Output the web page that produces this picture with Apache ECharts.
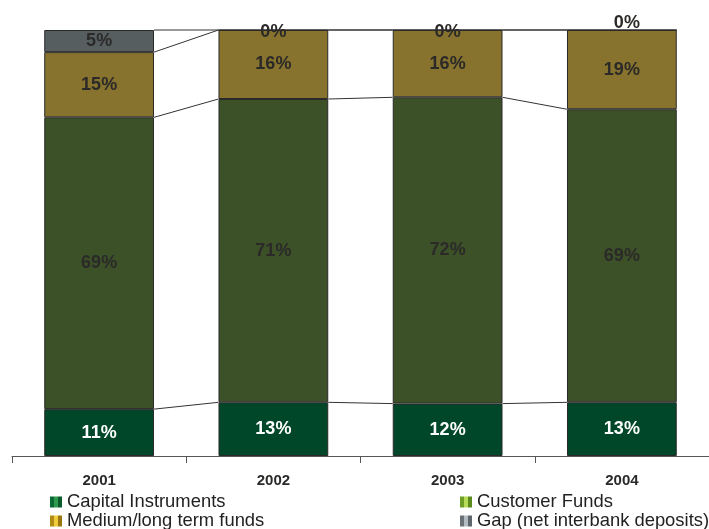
<!DOCTYPE html>
<html>
<head>
<meta charset="utf-8">
<script src="https://cdn.jsdelivr.net/npm/echarts@6/dist/echarts.min.js"></script>
<style>
  html, body { margin: 0; padding: 0; background: #fff; }
  #chart { width: 709px; height: 529px; }
</style>
</head>
<body>
<div id="chart"></div>
<script>
// data (share of funding, %)
const years = ['2001', '2002', '2003', '2004'];
const capitalInstruments = [11.0, 12.6, 12.3, 12.6];
const customerFunds = [68.5, 71.2, 71.9, 68.8];
const mediumLongFunds = [15.3, 16.2, 15.8, 18.6];
const gapInterbank = [5.2, 0, 0, 0];

const seriesNames = ['Capital Instruments', 'Customer Funds', 'Medium/long term funds', 'Gap (net interbank deposits)'];
const seriesValues = [capitalInstruments, customerFunds, mediumLongFunds, gapInterbank];
const barColors = ['#004628', '#3c5128', '#87732e', '#565e60'];
const labelColors = ['#ffffff', '#2b2a28', '#2b2a28', '#2b2a28'];
const BAR_RATIO = 0.63;
const FONT = 'Liberation Sans';

const chart = echarts.init(document.getElementById('chart'));

// cumulative tops, used by the connector lines between bars
const cumTops = years.map((y, i) => {
  let s = 0;
  return seriesValues.map(arr => (s += arr[i]));
});
const connectorData = [];
for (let i = 0; i < years.length - 1; i++) {
  for (let k = 0; k < seriesValues.length; k++) {
    connectorData.push([i, cumTops[i][k], cumTops[i + 1][k]]);
  }
}

const grad = (a, b, c) => ({
  type: 'linear', x: 0, y: 0, x2: 1, y2: 0,
  colorStops: [
    { offset: 0, color: a }, { offset: 0.33, color: a },
    { offset: 0.34, color: b }, { offset: 0.66, color: b },
    { offset: 0.67, color: c }, { offset: 1, color: c },
  ],
});
const legendIcons = [
  grad('#0a6a34', '#2f9a4e', '#0b5a2c'),
  grad('#6e9e24', '#b8dc58', '#5a8a1c'),
  grad('#b08a12', '#f0cc3c', '#9a7610'),
  grad('#6a7278', '#b4bcc2', '#5e666c'),
];
// legend slot per series: [left, top]
const legendPos = [[50, 493], [460, 493], [50, 512], [460, 512]];

const barSeries = seriesNames.map((name, k) => ({
  name,
  type: 'bar',
  stack: 'total',
  barWidth: (BAR_RATIO * 100) + '%',
  data: seriesValues[k].map((v, i) => {
    const item = { value: v };
    if (v === 0) {
      // zero slices: label sits on the bar top (last year just above it)
      item.label = i === years.length - 1
        ? { position: 'inside', offset: [5, -7] }
        : { position: 'inside', offset: [0, 2] };
    }
    return item;
  }),
  itemStyle: { color: barColors[k], borderColor: '#2a2a2a', borderWidth: 1 },
  label: {
    show: true,
    position: 'inside',
    color: labelColors[k],
    textBorderWidth: 0,
    fontFamily: FONT,
    fontWeight: 'bold',
    fontSize: 18,
    formatter: p => Math.round(p.value) + '%',
  },
  emphasis: { disabled: true },
  z: 3,
}));

chart.setOption({
  animation: false,
  legend: seriesNames.map((name, k) => ({
    left: legendPos[k][0],
    top: legendPos[k][1],
    padding: 0,
    itemWidth: 12,
    itemHeight: 11,
    itemGap: 0,
    icon: 'rect',
    selectedMode: false,
    data: [{ name, itemStyle: { color: legendIcons[k], borderWidth: 0 } }],
    textStyle: { fontFamily: FONT, fontSize: 18.4, color: '#222' },
  })),
  grid: { left: 12, right: 0, top: 30, bottom: 73 },
  xAxis: {
    type: 'category',
    data: years,
    axisLine: { lineStyle: { color: '#555', width: 1 } },
    axisTick: { show: true, length: 7, lineStyle: { color: '#555' } },
    axisLabel: {
      margin: 17,
      color: '#2b2a28',
      fontFamily: FONT,
      fontWeight: 'bold',
      fontSize: 15,
    },
  },
  yAxis: { type: 'value', min: 0, max: 100, show: false, splitLine: { show: false } },
  series: barSeries.concat([{
    type: 'custom',
    name: 'connectors',
    data: connectorData,
    encode: { x: 0, y: [1, 2] },
    silent: true,
    z: 4,
    renderItem: (params, api) => {
      const i = api.value(0);
      const band = api.size([1, 0])[0];
      const half = band * BAR_RATIO / 2;
      const a = api.coord([i, api.value(1)]);
      const b = api.coord([i + 1, api.value(2)]);
      return {
        type: 'line',
        shape: { x1: a[0] + half, y1: a[1], x2: b[0] - half, y2: b[1] },
        style: { stroke: '#333', lineWidth: 1 },
      };
    },
  }]),
});
</script>
</body>
</html>
